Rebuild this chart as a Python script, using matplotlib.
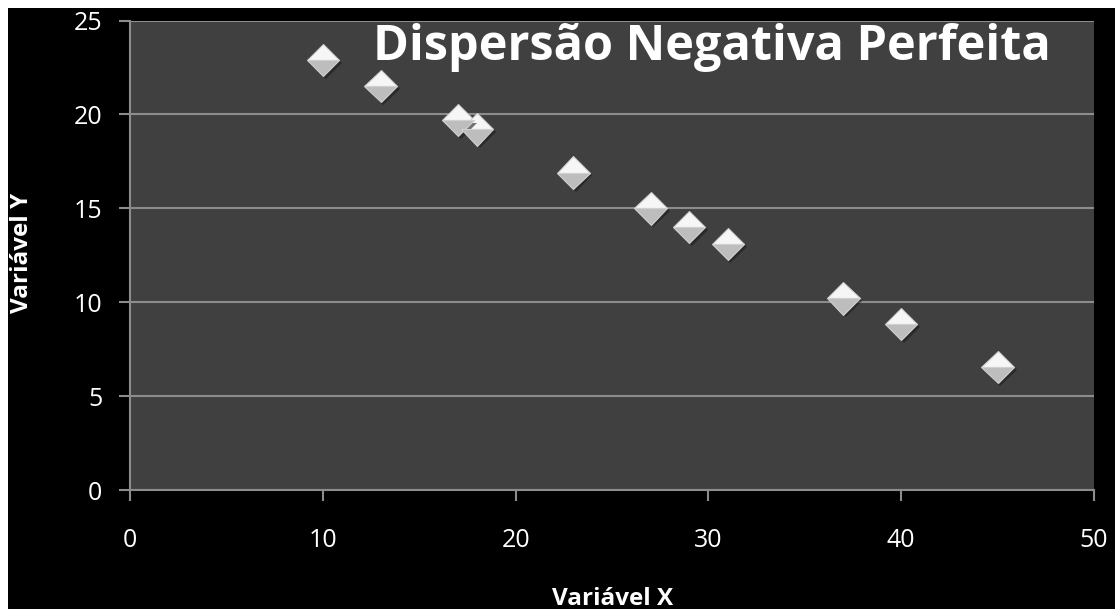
import matplotlib.pyplot as plt
import matplotlib.patheffects as pe
from matplotlib.patches import Rectangle

# dados
x_vals = [10, 13, 17, 18, 23, 27, 29, 31, 37, 40, 45]
y_vals = [22.9, 21.5, 19.7, 19.2, 16.9, 15.0, 14.0, 13.1, 10.2, 8.85, 6.55]
x_ticks = [0, 10, 20, 30, 40, 50]
y_ticks = [0, 5, 10, 15, 20, 25]

plt.rcParams['font.family'] = ['Open Sans', 'DejaVu Sans']

fig = plt.figure(figsize=(11.15, 6.09), dpi=100, facecolor='black')
ax = fig.add_axes([0.1166, 0.1954, 0.8646, 0.7709])
ax.set_facecolor('#404040')

# borda branca em cima e a esquerda, como no print
fig.patches.append(Rectangle((0, 1 - 8 / 609), 1, 8 / 609, transform=fig.transFigure,
                             facecolor='white', edgecolor='none', zorder=10))
fig.patches.append(Rectangle((0, 0), 8 / 1115, 1, transform=fig.transFigure,
                             facecolor='white', edgecolor='none', zorder=10))

ax.plot(x_vals, y_vals, linestyle='none', marker='D', markersize=16.5,
        fillstyle='top', markerfacecolor='#f6f6f6', markerfacecoloralt='#bdbdbd',
        markeredgecolor='#d0d0d0', markeredgewidth=0.8, zorder=3,
        path_effects=[pe.SimplePatchShadow(offset=(2, -2), shadow_rgbFace='#1a1a1a', alpha=0.6),
                      pe.Normal()])

ax.set_xlim(0, 50)
ax.set_ylim(0, 25)
ax.set_xticks(x_ticks)
ax.set_yticks(y_ticks)
ax.grid(axis='y', color='#8c8c8c', linewidth=1.5)
ax.set_axisbelow(True)

for s in ['top', 'right']:
    ax.spines[s].set_visible(False)
for s in ['left', 'bottom']:
    ax.spines[s].set_color('#8c8c8c')
    ax.spines[s].set_linewidth(1.5)

ax.tick_params(colors='#8c8c8c', labelcolor='white', labelsize=18, length=8, width=1.5,
               direction='out')
ax.tick_params(axis='x', pad=19)
ax.tick_params(axis='y', pad=12)

ax.text(0.604, 0.943, 'Dispersão Negativa Perfeita', transform=ax.transAxes, color='white',
        fontsize=35, fontweight='bold', ha='center', va='center')

fig.text(0.0197, 0.585, 'Variável Y', color='white', fontsize=17.5, fontweight='bold',
         rotation=90, ha='center', va='center')
fig.text(0.549, 1 - 605 / 609, 'Variável X', color='white', fontsize=17.5, fontweight='bold',
         ha='center', va='baseline')

fig.savefig('out.png', dpi=100, facecolor='black')
